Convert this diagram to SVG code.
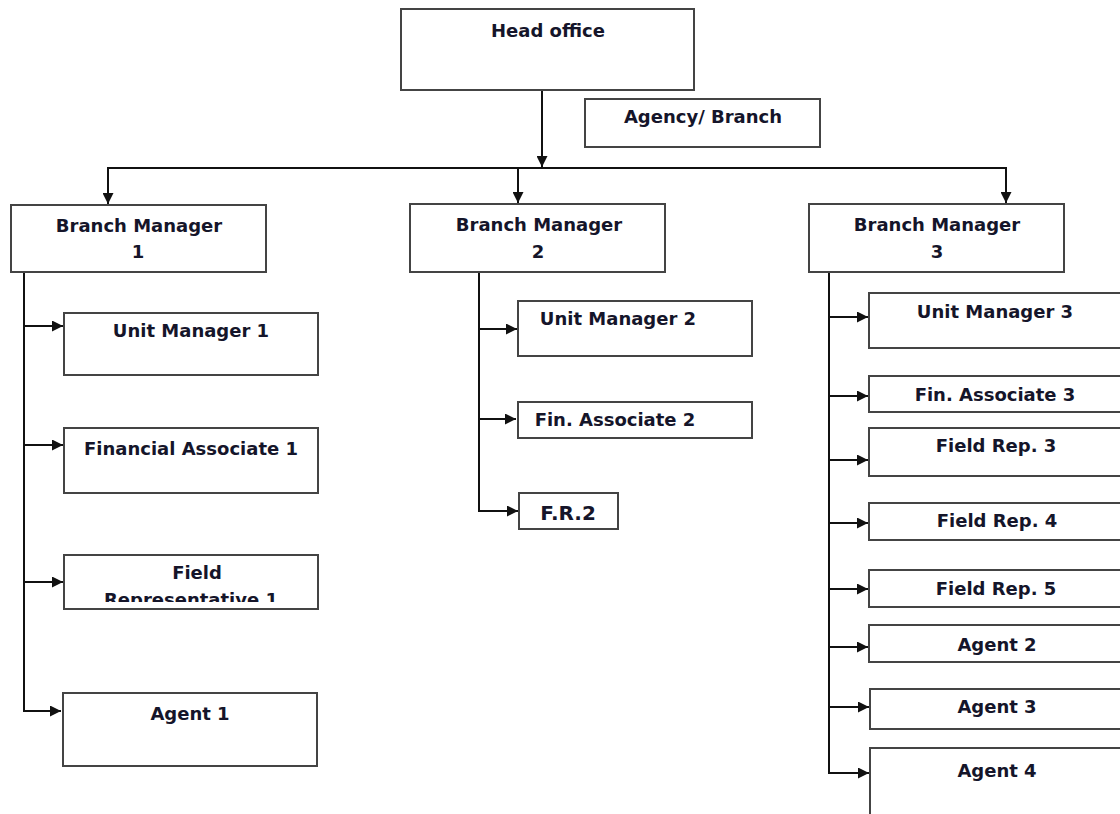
<svg xmlns="http://www.w3.org/2000/svg" width="1120" height="814" viewBox="0 0 1120 814">
<style>
.box{fill:#fff;stroke:#444;stroke-width:2}
.t{font-family:"DejaVu Sans",Verdana,sans-serif;font-weight:bold;font-size:18px;fill:#15152a;text-anchor:middle}
.big{font-size:20px}
.c{fill:none;stroke:#111;stroke-width:2}
</style>
<defs>
<marker id="ah" viewBox="0 0 10 10" refX="10" refY="5" markerWidth="6" markerHeight="5.5" orient="auto" markerUnits="strokeWidth">
<path d="M0,0 L10,5 L0,10 z" fill="#111"/>
</marker>
<clipPath id="fr1clip"><rect x="64" y="555" width="254" height="47"/></clipPath>
</defs>
<rect width="1120" height="814" fill="#fff"/>

<g id="connectors">
<line class="c" x1="542" y1="77" x2="542" y2="167" marker-end="url(#ah)"/>
<line class="c" x1="107" y1="168" x2="1007" y2="168"/>
<line class="c" x1="108" y1="168" x2="108" y2="204" marker-end="url(#ah)"/>
<line class="c" x1="518" y1="168" x2="518" y2="203" marker-end="url(#ah)"/>
<line class="c" x1="1006" y1="168" x2="1006" y2="203" marker-end="url(#ah)"/>
<line class="c" x1="24" y1="272" x2="24" y2="712"/>
<line class="c" x1="23" y1="326" x2="63" y2="326" marker-end="url(#ah)"/>
<line class="c" x1="23" y1="445" x2="63" y2="445" marker-end="url(#ah)"/>
<line class="c" x1="23" y1="582" x2="63" y2="582" marker-end="url(#ah)"/>
<line class="c" x1="23" y1="711" x2="61" y2="711" marker-end="url(#ah)"/>
<line class="c" x1="479" y1="272" x2="479" y2="512"/>
<line class="c" x1="478" y1="329" x2="517" y2="329" marker-end="url(#ah)"/>
<line class="c" x1="478" y1="419" x2="516" y2="419" marker-end="url(#ah)"/>
<line class="c" x1="478" y1="511" x2="518" y2="511" marker-end="url(#ah)"/>
<line class="c" x1="829" y1="272" x2="829" y2="773"/>
<line class="c" x1="828" y1="317" x2="868" y2="317" marker-end="url(#ah)"/>
<line class="c" x1="828" y1="396" x2="868" y2="396" marker-end="url(#ah)"/>
<line class="c" x1="828" y1="460" x2="868" y2="460" marker-end="url(#ah)"/>
<line class="c" x1="828" y1="523" x2="868" y2="523" marker-end="url(#ah)"/>
<line class="c" x1="828" y1="589" x2="868" y2="589" marker-end="url(#ah)"/>
<line class="c" x1="828" y1="647" x2="868" y2="647" marker-end="url(#ah)"/>
<line class="c" x1="828" y1="707" x2="869" y2="707" marker-end="url(#ah)"/>
<line class="c" x1="828" y1="773" x2="869" y2="773" marker-end="url(#ah)"/>
</g>

<g id="head-office"><rect class="box" x="401" y="9" width="293" height="81"/><text class="t" x="548" y="37">Head office</text></g>
<g id="agency-branch"><rect class="box" x="585" y="99" width="235" height="48"/><text class="t" x="703" y="123">Agency/ Branch</text></g>

<g id="bm1"><rect class="box" x="11" y="205" width="255" height="67"/><text class="t" x="139" y="232">Branch Manager</text><text class="t" x="138" y="258">1</text></g>
<g id="bm2"><rect class="box" x="410" y="204" width="255" height="68"/><text class="t" x="539" y="231">Branch Manager</text><text class="t" x="538" y="258">2</text></g>
<g id="bm3"><rect class="box" x="809" y="204" width="255" height="68"/><text class="t" x="937" y="231">Branch Manager</text><text class="t" x="937" y="258">3</text></g>

<g id="um1"><rect class="box" x="64" y="313" width="254" height="62"/><text class="t" x="191" y="337">Unit Manager 1</text></g>
<g id="fa1"><rect class="box" x="64" y="428" width="254" height="65"/><text class="t" x="191" y="455">Financial Associate 1</text></g>
<g id="fr1"><rect class="box" x="64" y="555" width="254" height="54"/><text class="t" x="197" y="579">Field</text><text class="t" x="191" y="606" clip-path="url(#fr1clip)">Representative 1</text></g>
<g id="agent1"><rect class="box" x="63" y="693" width="254" height="73"/><text class="t" x="190" y="720">Agent 1</text></g>

<g id="um2"><rect class="box" x="518" y="301" width="234" height="55"/><text class="t" x="618" y="325">Unit Manager 2</text></g>
<g id="fa2"><rect class="box" x="518" y="402" width="234" height="36"/><text class="t" x="615" y="426">Fin. Associate 2</text></g>
<g id="fr2"><rect class="box" x="519" y="493" width="99" height="36"/><text class="t big" x="568" y="520">F.R.2</text></g>

<g id="um3"><rect class="box" x="869" y="293" width="260" height="55"/><text class="t" x="995" y="318">Unit Manager 3</text></g>
<g id="fa3"><rect class="box" x="869" y="376" width="260" height="36"/><text class="t" x="995" y="401">Fin. Associate 3</text></g>
<g id="fr3"><rect class="box" x="869" y="428" width="260" height="48"/><text class="t" x="996" y="452">Field Rep. 3</text></g>
<g id="fr4"><rect class="box" x="869" y="503" width="260" height="37"/><text class="t" x="997" y="527">Field Rep. 4</text></g>
<g id="fr5"><rect class="box" x="869" y="570" width="260" height="37"/><text class="t" x="996" y="595">Field Rep. 5</text></g>
<g id="agent2"><rect class="box" x="869" y="625" width="260" height="37"/><text class="t" x="997" y="651">Agent 2</text></g>
<g id="agent3"><rect class="box" x="870" y="689" width="260" height="40"/><text class="t" x="997" y="713">Agent 3</text></g>
<g id="agent4"><rect class="box" x="870" y="748" width="260" height="80"/><text class="t" x="997" y="777">Agent 4</text></g>
</svg>
